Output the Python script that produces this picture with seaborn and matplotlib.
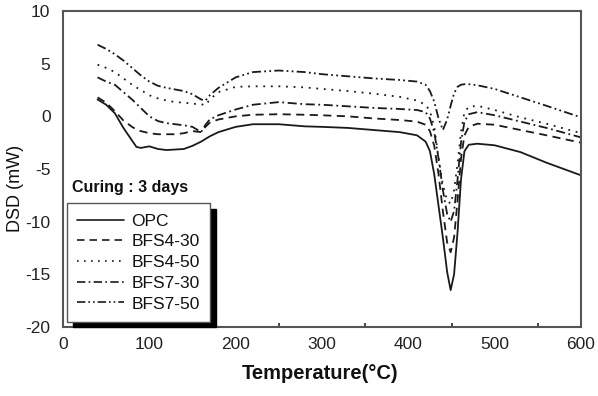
import matplotlib
matplotlib.use("Agg")
import matplotlib.pyplot as plt
import seaborn as sns
import numpy as np
import pandas as pd
from matplotlib.ticker import MultipleLocator

# ---- data ----
temperature = [40, 50, 60, 70, 80, 85, 90, 100, 110, 120, 130, 140, 150, 160, 165, 170, 180,
               200, 220, 250, 280, 300, 330, 360, 390, 410, 420, 425, 430, 435, 440, 445,
               449, 453, 457, 461, 465, 470, 480, 500, 530, 560, 600]

opc = [1.6, 1.1, 0.3, -1.1, -2.3, -2.9, -3.0, -2.85, -3.1, -3.2, -3.15, -3.1, -2.8, -2.4, -2.15, -1.9, -1.5,
       -1.0, -0.75, -0.75, -0.95, -1.0, -1.1, -1.3, -1.5, -1.8, -2.4, -3.3, -5.5, -8.5, -11.5, -14.8,
       -16.5, -15.0, -11.0, -6.0, -3.3, -2.7, -2.6, -2.75, -3.4, -4.4, -5.6]

bfs4_30 = [1.8, 1.3, 0.5, -0.4, -1.0, -1.25, -1.4, -1.6, -1.7, -1.7, -1.7, -1.6, -1.4, -1.5, -1.0, -0.6, -0.3,
           0.0, 0.15, 0.2, 0.15, 0.1, 0.0, -0.2, -0.35, -0.5, -0.8, -1.4, -2.8, -5.5, -9.0, -12.0,
           -12.9, -11.5, -8.0, -4.0, -1.8, -1.0, -0.7, -0.8, -1.3, -1.8, -2.5]

bfs4_50 = [4.9, 4.6, 4.2, 3.6, 3.0, 2.75, 2.5, 2.0, 1.7, 1.5, 1.35, 1.3, 1.2, 1.15, 1.05, 1.6, 2.3,
           2.8, 2.85, 2.85, 2.75, 2.6, 2.4, 2.15, 1.85, 1.5, 1.1, 0.5, -1.0, -4.0, -6.5, -8.0,
           -8.3, -7.0, -4.5, -1.5, 0.4, 0.9, 1.0, 0.6, -0.1, -0.7, -1.6]

bfs7_30 = [3.7, 3.3, 3.0, 2.3, 1.6, 1.2, 0.8, 0.0, -0.45, -0.65, -0.75, -0.85, -1.0, -1.5, -0.8, -0.3, 0.1,
           0.65, 1.1, 1.35, 1.15, 1.1, 0.95, 0.8, 0.7, 0.6, 0.4, -0.2, -1.5, -4.0, -7.0, -9.3,
           -10.0, -9.0, -6.0, -2.5, -0.5, 0.2, 0.4, 0.1, -0.5, -1.1, -2.0]

bfs7_50 = [6.8, 6.4, 5.9, 5.3, 4.6, 4.25, 3.9, 3.3, 2.9, 2.7, 2.55, 2.4, 2.1, 1.6, 1.5, 2.0, 2.7,
           3.7, 4.2, 4.35, 4.2, 4.0, 3.8, 3.6, 3.45, 3.3, 3.0, 2.4, 1.4, -0.2, -1.3, -0.3,
           1.0, 2.2, 2.8, 3.0, 3.05, 3.05, 2.95, 2.6, 1.8, 1.0, -0.1]

series_names = ["OPC", "BFS4-30", "BFS4-50", "BFS7-30", "BFS7-50"]
series_values = [opc, bfs4_30, bfs4_50, bfs7_30, bfs7_50]

x_ticks = [0, 100, 200, 300, 400, 500, 600]
y_ticks = [-20, -15, -10, -5, 0, 5, 10]

# ---- styling ----
sns.set_style("white")
plt.rcParams["font.family"] = ["Liberation Sans", "DejaVu Sans"]
plt.rcParams["axes.unicode_minus"] = False

styles = {
    "OPC": "-",
    "BFS4-30": (0, (4.5, 3.0)),
    "BFS4-50": (0, (1.0, 3.2)),
    "BFS7-30": (0, (5.0, 2.0, 1.0, 2.0)),
    "BFS7-50": (0, (5.0, 1.8, 1.0, 1.8, 1.0, 1.8)),
}
line_color = "#1a1a1a"

fig = plt.figure(figsize=(5.98, 3.96), dpi=100)
ax = fig.add_axes([63 / 598, (396 - 327) / 396, (581 - 63) / 598, (327 - 11) / 396])

for name, vals in zip(series_names, series_values):
    df = pd.DataFrame({"Temperature": temperature, "DSD": vals})
    sns.lineplot(data=df, x="Temperature", y="DSD", ax=ax, color=line_color,
                 linewidth=1.3, linestyle=styles[name], label=name, legend=False)

ax.set_xlim(0, 600)
ax.set_ylim(-20, 10)
ax.set_xticks(x_ticks)
ax.set_yticks(y_ticks)
ax.xaxis.set_minor_locator(MultipleLocator(50))
ax.tick_params(axis="x", which="major", direction="in", length=4, width=1.2,
               labelsize=12.5, pad=7, colors="#222222")
ax.tick_params(axis="x", which="minor", direction="in", length=3, width=1.2, bottom=True)
ax.tick_params(axis="y", which="both", length=0, labelsize=12.5, pad=9, colors="#222222")

for s in ax.spines.values():
    s.set_visible(True)
    s.set_color("#555555")
    s.set_linewidth(1.5)

ax.set_xlabel("Temperature(\u00b0C)", fontsize=14.5, fontweight="bold", color="#111111")
ax.set_ylabel("DSD (mW)", fontsize=13, color="#111111")
ax.xaxis.set_label_coords(0.496, -0.116)
ax.yaxis.set_label_coords(-0.075, 0.44)

ax.text(0.017, 0.443, "Curing : 3 days", transform=ax.transAxes, fontsize=11.5,
        fontweight="bold", va="center", ha="left", color="#111111")

leg = ax.legend(loc="lower left", bbox_to_anchor=(0.0077, 0.016), borderaxespad=0,
                fontsize=12.5, handlelength=2.7, handletextpad=0.4, labelspacing=0.32,
                borderpad=0.6, fancybox=False, frameon=True,
                shadow={"ox": 4.5, "oy": -4, "color": "black", "alpha": 1})
leg.get_frame().set_edgecolor("#555555")
leg.get_frame().set_linewidth(1.0)
for h in leg.get_lines():
    h.set_linewidth(1.2)
for t in leg.get_texts():
    t.set_color("#111111")

fig.savefig("out.png", dpi=100)
